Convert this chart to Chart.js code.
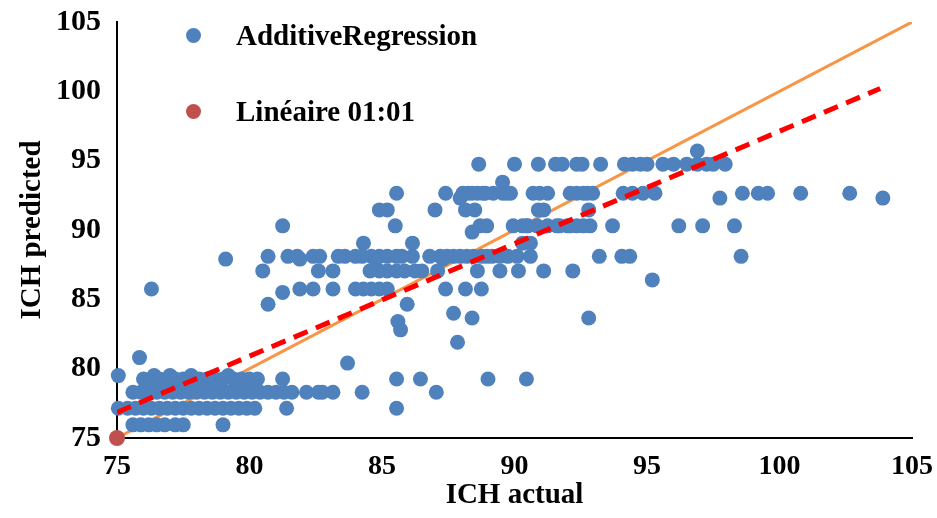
<!DOCTYPE html>
<html>
<head>
<meta charset="utf-8">
<script src="https://cdn.jsdelivr.net/npm/chart.js@4.4.1/dist/chart.umd.min.js"></script>
<style>
  html, body { margin: 0; padding: 0; background: #fff; }
  #wrap { position: relative; width: 937px; height: 518px; }
  .leg { position: absolute; left: 186px; height: 30px; line-height: 30px; display: flex; align-items: center;
         font: bold 29px "Liberation Serif", "Times New Roman", serif; color: #000; white-space: nowrap; }
  .leg i { display: inline-block; width: 15px; height: 15px; border-radius: 50%; margin-right: 35px; }
</style>
</head>
<body>
<div id="wrap">
  <canvas id="chart" width="937" height="518"></canvas>
  <div class="leg" style="top:20px"><i style="background:#4F81BD"></i>AdditiveRegression</div>
  <div class="leg" style="top:96px"><i style="background:#C0504D"></i>Linéaire 01:01</div>
</div>
<script>
// predicted values come in discrete levels, actual values listed per level
const predictedLevels = [95.7, 94.75, 93.45, 92.65, 92.3, 91.45, 90.3, 89.85, 89.05, 88.1, 87.9, 87.05, 86.4,
  85.75, 85.5, 84.65, 84.0, 83.65, 83.4, 82.8, 81.9, 80.8, 80.4, 79.5, 79.25, 78.3, 77.15, 75.95];

const actualByLevel = [
  [96.9],
  [88.65, 90.0, 90.9, 91.55, 91.8, 92.35, 92.55, 93.25, 94.15, 94.45, 94.75, 95.0, 95.6, 96.0, 96.5, 96.9, 97.25, 97.5, 97.95],
  [89.55],
  [85.55, 87.4, 88.05, 88.25, 88.4, 88.6, 88.8, 88.9, 89.2, 89.55, 89.7, 89.85, 90.7, 90.95, 91.25, 92.1, 92.35, 92.6, 92.75,
   92.95, 94.1, 94.45, 94.85, 95.3, 98.6, 99.2, 99.55, 100.8, 102.65],
  [87.95, 97.75, 103.9],
  [84.9, 85.2, 87.0, 88.15, 88.5, 90.9, 91.1, 92.8],
  [81.25, 85.5, 88.7, 88.95, 89.95, 90.3, 90.45, 90.5, 90.85, 91.25, 91.6, 91.7, 92.0, 92.1, 92.35, 92.6, 92.85, 93.7,
   96.2, 97.1, 98.3],
  [88.4],
  [84.3, 86.15, 90.3, 90.6],
  [80.7, 81.45, 81.8, 82.4, 82.65, 83.35, 83.6, 84.0, 84.25, 84.6, 84.9, 85.2, 85.55, 85.75, 86.15, 86.8, 87.2, 87.45,
   87.7, 87.95, 88.2, 88.45, 88.75, 88.95, 89.15, 89.45, 89.75, 90.1, 90.6, 93.2, 94.05, 94.35, 98.55],
  [79.1, 81.9, 84.75, 87.3],
  [80.5, 82.6, 83.15, 84.55, 84.9, 85.2, 85.55, 85.85, 86.25, 86.5, 87.1, 88.6, 89.45, 90.15, 91.1, 92.2],
  [95.2],
  [76.3, 81.9, 82.4, 83.15, 84.0, 84.3, 84.6, 84.9, 85.2, 87.4, 88.15, 88.75],
  [81.25],
  [80.7, 85.95],
  [87.7],
  [88.4, 92.8],
  [85.6],
  [85.7],
  [87.85],
  [75.85],
  [83.7],
  [75.05, 76.4, 77.0, 77.8, 79.2],
  [76.0, 76.3, 76.6, 76.9, 77.2, 77.5, 77.8, 78.1, 78.4, 78.7, 79.0, 79.4, 79.7, 80.0, 80.3, 81.25, 85.55, 86.45, 89.0, 90.45],
  [75.6, 75.9, 76.2, 76.5, 76.8, 77.1, 77.4, 77.7, 78.0, 78.3, 78.6, 78.9, 79.2, 79.5, 79.8, 80.1, 80.4, 80.7, 81.0,
   81.3, 81.6, 82.15, 82.6, 82.75, 83.15, 84.25, 87.05],
  [75.05, 75.4, 75.7, 76.0, 76.3, 76.6, 76.9, 77.2, 77.5, 77.8, 78.1, 78.4, 78.7, 79.0, 79.3, 79.6, 79.9, 80.2, 81.4, 85.55],
  [75.6, 75.9, 76.2, 76.5, 76.8, 77.2, 77.5, 79.0]
];

// 1:1 line and the trend line, end points
const oneToOneX = [75, 105];
const oneToOneY = [75, 105];
const trendX = [75, 103.8];
const trendY = [76.85, 100.2];
const lineairePoint = [{ x: 75, y: 75 }];

const tickValues = [75, 80, 85, 90, 95, 100, 105];

let points = [];
predictedLevels.forEach((y, i) => {
  actualByLevel[i].forEach(x => points.push({ x: x, y: y }));
});

const serif = '"Liberation Serif", "Times New Roman", serif';

new Chart("chart", {
  type: "scatter",
  data: {
    datasets: [
      {
        label: "trend",
        data: trendX.map((x, i) => ({ x: x, y: trendY[i] })),
        showLine: true,
        borderColor: "#FF0000",
        borderWidth: 5,
        borderDash: [15, 9],
        pointRadius: 0,
        order: 0
      },
      {
        label: "Linéaire 01:01",
        data: lineairePoint,
        backgroundColor: "#C0504D",
        borderWidth: 0,
        pointRadius: 8,
        clip: false,
        order: 1
      },
      {
        label: "AdditiveRegression",
        data: points,
        backgroundColor: "#4F81BD",
        borderWidth: 0,
        pointRadius: 7.5,
        clip: false,
        order: 2
      },
      {
        label: "1:1",
        data: oneToOneX.map((x, i) => ({ x: x, y: oneToOneY[i] })),
        showLine: true,
        borderColor: "#F79646",
        borderWidth: 3,
        pointRadius: 0,
        order: 3
      }
    ]
  },
  options: {
    responsive: false,
    animation: false,
    layout: { padding: { left: 11, top: 22, right: 25, bottom: 1 } },
    plugins: {
      legend: { display: false },
      tooltip: { enabled: false }
    },
    scales: {
      x: {
        type: "linear",
        min: 75,
        max: 105,
        afterBuildTicks: (scale) => { scale.ticks = tickValues.map(v => ({ value: v })); },
        afterFit: (scale) => { scale.height = 79; scale.paddingLeft = 0; scale.paddingRight = 0; },
        grid: { display: false, drawTicks: false },
        border: { display: true, color: "#000", width: 2 },
        ticks: { color: "#000", padding: 12, font: { family: serif, size: 28, weight: "bold" } },
        title: { display: true, text: "ICH actual", color: "#000", font: { family: serif, size: 29, weight: "bold" } }
      },
      y: {
        type: "linear",
        min: 75,
        max: 105,
        afterBuildTicks: (scale) => { scale.ticks = tickValues.map(v => ({ value: v })); },
        afterFit: (scale) => { scale.width = 106; scale.paddingTop = 0; scale.paddingBottom = 0; },
        grid: { display: false, drawTicks: false },
        border: { display: true, color: "#000", width: 2 },
        ticks: { color: "#000", padding: 16, font: { family: serif, size: 30, weight: "bold" } },
        title: { display: true, text: "ICH predicted", color: "#000", font: { family: serif, size: 29, weight: "bold" } }
      }
    }
  }
});
</script>
</body>
</html>
